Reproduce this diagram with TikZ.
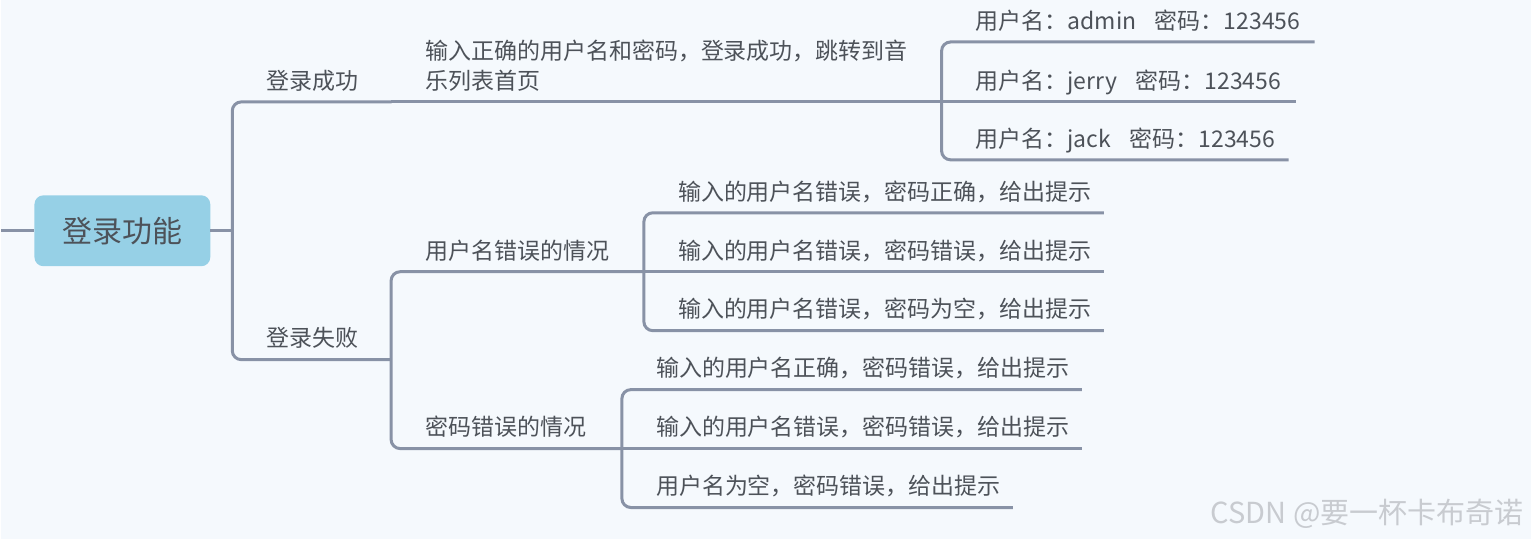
\documentclass[tikz,border=0pt]{standalone}
\usepackage{fontspec}
\setmainfont{Noto Sans CJK SC}
\definecolor{PageBg}{RGB}{245,249,253}
\definecolor{RootFill}{RGB}{150,208,230}
\definecolor{LinkGray}{RGB}{136,146,166}
\definecolor{TextGray}{RGB}{77,82,89}
\definecolor{MarkGray}{RGB}{200,203,208}
\tikzset{
  link/.style={line width=3pt,draw=LinkGray,rounded corners=9pt},
  rootbox/.style={fill=RootFill,rounded corners=9pt,minimum width=176pt,
    minimum height=71pt,font=\fontsize{30}{34}\selectfont,text=TextGray},
  topic/.style={anchor=south west,inner xsep=34pt,inner ysep=7.5pt,
    text width=#1,text depth=5pt,align=left,
    font=\fontsize{23}{30}\selectfont,text=TextGray},
  markstyle/.style={anchor=east,font=\fontsize{29}{32}\selectfont,text=MarkGray}
}

\begin{document}
\begin{tikzpicture}[x=1pt,y=-1pt]
  \fill[PageBg] (0,0) rectangle (1531,540);

  % root
  \node[rootbox] (root) at (121,231) {登录功能};
  \coordinate (in) at (0,231);

  % first level
  \node[topic=91pt] (succ) at (231,102) {登录成功};
  \node[topic=91pt] (fail) at (231,360) {登录失败};

  % success branch
  \node[topic=483pt,text depth=35pt] (correct) at (390,102) {输入正确的用户名和密码，登录成功，跳转到音\\乐列表首页};
  \node[topic=305pt] (admin) at (941,42) {\mbox{用户名：admin\hspace{0.8em}密码：123456}};
  \node[topic=286pt] (jerry) at (941,102) {\mbox{用户名：jerry\hspace{0.8em}密码：123456}};
  \node[topic=279pt] (jack) at (941,160) {\mbox{用户名：jack\hspace{0.8em}密码：123456}};

  % failure branch
  \node[topic=185pt] (uerr) at (390,272) {用户名错误的情况};
  \node[topic=163pt] (perr) at (390,449) {密码错误的情况};
  \node[topic=392pt] (uone) at (643,213) {输入的用户名错误，密码正确，给出提示};
  \node[topic=392pt] (utwo) at (643,272) {输入的用户名错误，密码错误，给出提示};
  \node[topic=392pt] (uthree) at (643,331) {输入的用户名错误，密码为空，给出提示};
  \node[topic=392pt] (pone) at (621,390) {输入的用户名正确，密码错误，给出提示};
  \node[topic=392pt] (ptwo) at (621,449) {输入的用户名错误，密码错误，给出提示};
  \node[topic=323pt] (pthree) at (621,508) {用户名为空，密码错误，给出提示};

  % connectors
  \draw[link] (in) -- (root.west);
  \draw[link] (root.east) -- (root.east -| succ.south west);
  \draw[link] (succ.south east) -- (succ.south west) -- (fail.south west) -- (fail.south east);
  \draw[link] (correct.south west) -- (correct.south east);
  \draw[link] (admin.south east) -- (admin.south west) -- (jack.south west) -- (jack.south east);
  \draw[link] (jerry.south west) -- (jerry.south east);
  \draw[link] (uerr.south east) -- (uerr.south west) -- (perr.south west) -- (perr.south east);
  \draw[link] (uone.south east) -- (uone.south west) -- (uthree.south west) -- (uthree.south east);
  \draw[link] (utwo.south west) -- (utwo.south east);
  \draw[link] (pone.south east) -- (pone.south west) -- (pthree.south west) -- (pthree.south east);
  \draw[link] (ptwo.south west) -- (ptwo.south east);

  \node[markstyle] (mark) at (1527,514) {CSDN @要一杯卡布奇诺};
\end{tikzpicture}
\end{document}
